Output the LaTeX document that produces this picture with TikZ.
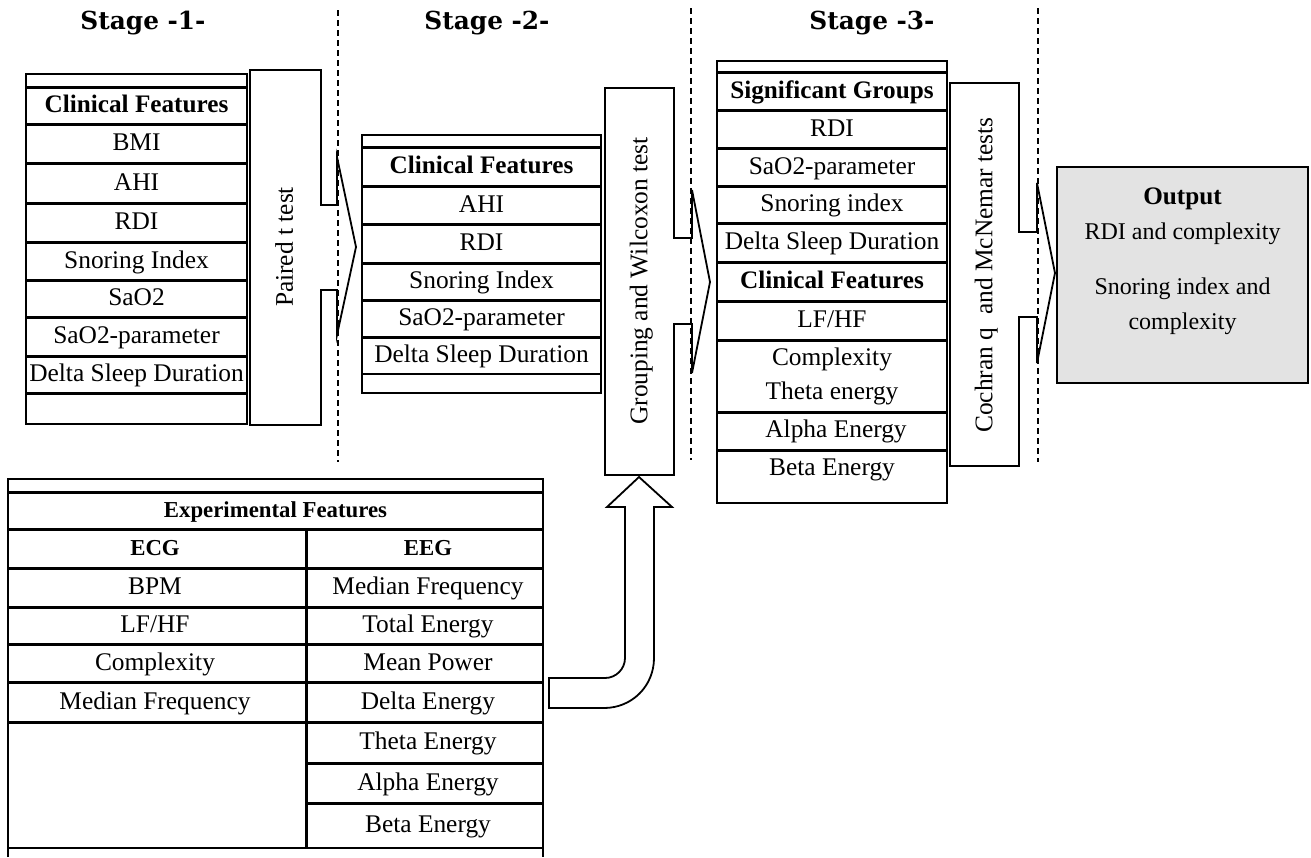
\documentclass[tikz,border=0pt]{standalone}
\usepackage{fontspec}
\setmainfont{Liberation Serif}
\newfontfamily\stagefont{DejaVu Serif}

\begin{document}
\begin{tikzpicture}[
      x=0.5pt, y=-0.5pt,
      frame/.style={draw, line width=0.8pt},
      sep/.style={line width=1.5pt},
      thinsep/.style={line width=0.6pt},
      cell/.style={inner sep=0pt, text height=9.3pt, text depth=1.9pt, font=\fontsize{12.7}{14}\selectfont},
      head/.style={cell, font=\fontsize{12.6}{14}\selectfont\bfseries},
      subhead/.style={cell, font=\fontsize{11.4}{13}\selectfont\bfseries},
      outtext/.style={cell, font=\fontsize{12}{14}\selectfont},
      stage/.style={inner sep=0pt, font=\stagefont\fontsize{12.4}{14}\selectfont\bfseries},
      testarrow/.style={draw, line width=0.9pt, line join=miter},
      testlabel/.style={cell, rotate=90},
      divider/.style={dash pattern=on 3pt off 2pt, line width=0.55pt},
      outbox/.style={draw, line width=0.9pt, fill=gray!22}
    ]
      \useasboundingbox (0,0) rectangle (1311,857);

      % stage titles and dividers
      \node[stage] (stage1) at (143,23) {Stage -1-};
      \node[stage] (stage2) at (487,23) {Stage -2-};
      \node[stage] (stage3) at (872,23) {Stage -3-};
      \draw[divider] (338,10) -- (338,462);
      \draw[divider] (691,8) -- (691,460);
      \draw[divider] (1038,8) -- (1038,462);

      % stage 1 table
      \draw[frame] (26,74) rectangle (247,424);
      \foreach \y in {87,124,163,203,242,280,317,356,393}
        \draw[sep] (26,\y) -- (247,\y);
      \node[head] (cf1) at (136.5,105.5) {Clinical Features};
      \node[cell] (bmi1) at (136.5,143.5) {BMI};
      \node[cell] (ahi1) at (136.5,183) {AHI};
      \node[cell] (rdi1) at (136.5,222.5) {RDI};
      \node[cell] (snore1) at (136.5,261) {Snoring Index};
      \node[cell] (sao1) at (136.5,298.5) {SaO2};
      \node[cell] (saop1) at (136.5,336.5) {SaO2-parameter};
      \node[cell] (delta1) at (136.5,374.5) {Delta Sleep Duration};

      % paired t test
      \draw[testarrow] (250,70) -- (321,70) -- (321,205) -- (337,205) -- (337,157) -- (356,247)
        -- (337,335) -- (337,290) -- (321,290) -- (321,425) -- (250,425) -- cycle;
      \node[testlabel] (ttest) at (285.5,247) {Paired t test};

      % stage 2 table
      \draw[frame] (362,135) rectangle (601,393);
      \foreach \y in {147,186,224,263,300,337}
        \draw[sep] (362,\y) -- (601,\y);
      \draw[thinsep] (362,374) -- (601,374);
      \node[head] (cf2) at (481.5,166.5) {Clinical Features};
      \node[cell] (ahi2) at (481.5,205) {AHI};
      \node[cell] (rdi2) at (481.5,243.5) {RDI};
      \node[cell] (snore2) at (481.5,281.5) {Snoring Index};
      \node[cell] (saop2) at (481.5,318.5) {SaO2-parameter};
      \node[cell] (delta2) at (481.5,355.5) {Delta Sleep Duration};

      % grouping and wilcoxon test
      \draw[testarrow] (605,88) -- (674,88) -- (674,238) -- (692,238) -- (692,190) -- (710,282)
        -- (692,373) -- (692,324) -- (674,324) -- (674,475) -- (605,475) -- cycle;
      \node[testlabel] (wilcox) at (640,281) {Grouping and Wilcoxon test};

      % stage 3 table
      \draw[frame] (717,61) rectangle (947,503);
      \foreach \y in {72,110,148,186,223,262,301,340,412,450}
        \draw[sep] (717,\y) -- (947,\y);
      \node[head] (sig3) at (832,91) {Significant Groups};
      \node[cell] (rdi3) at (832,129) {RDI};
      \node[cell] (saop3) at (832,167) {SaO2-parameter};
      \node[cell] (snore3) at (832,204.5) {Snoring index};
      \node[cell] (delta3) at (832,242.5) {Delta Sleep Duration};
      \node[head] (cf3) at (832,281.5) {Clinical Features};
      \node[cell] (lfhf3) at (832,320.5) {LF/HF};
      \node[cell] (cplx3) at (832,358) {Complexity};
      \node[cell] (theta3) at (832,392) {Theta energy};
      \node[cell] (alpha3) at (836,430) {Alpha Energy};
      \node[cell] (beta3) at (832,468) {Beta Energy};

      % cochran q and mcnemar tests
      \draw[testarrow] (950,83) -- (1019,83) -- (1019,232) -- (1037,232) -- (1037,183) -- (1055,273)
        -- (1037,363) -- (1037,317) -- (1019,317) -- (1019,466) -- (950,466) -- cycle;
      \node[testlabel] (cochran) at (985,275) {Cochran q~ and McNemar tests};

      % output
      \draw[outbox] (1057,167) rectangle (1308,383);
      \node[head] (outtitle) at (1182.5,197) {Output};
      \node[outtext] (out1) at (1182.5,232) {RDI and complexity};
      \node[outtext] (out2) at (1182.5,287) {Snoring index and};
      \node[outtext] (out3) at (1182.5,322) {complexity};

      % experimental features table
      \draw[frame] (8,857) -- (8,479) -- (543,479) -- (543,857);
      \foreach \y in {492,529,568,607,644,682,722}
        \draw[sep] (8,\y) -- (543,\y);
      \foreach \y in {763,803}
        \draw[sep] (306,\y) -- (543,\y);
      \draw[thinsep] (8,848) -- (543,848);
      \draw[sep] (306,529) -- (306,848);
      \node[subhead] (expf) at (275.5,510.5) {Experimental Features};
      \node[subhead] (ecg) at (155,548.5) {ECG};
      \node[subhead] (eeg) at (428,548.5) {EEG};
      \node[cell] (bpm) at (155,587.5) {BPM};
      \node[cell] (lfhf) at (155,625.5) {LF/HF};
      \node[cell] (cplx) at (155,663) {Complexity};
      \node[cell] (medecg) at (155,702) {Median Frequency};
      \node[cell] (medeeg) at (428,587.5) {Median Frequency};
      \node[cell] (total) at (428,625.5) {Total Energy};
      \node[cell] (power) at (428,663) {Mean Power};
      \node[cell] (delta) at (428,702) {Delta Energy};
      \node[cell] (theta) at (428,742.5) {Theta Energy};
      \node[cell] (alpha) at (428,783) {Alpha Energy};
      \node[cell] (beta) at (428,825.5) {Beta Energy};

      % bent arrow up to the wilcoxon box
      \draw[testarrow] (549,678) -- (605,678) .. controls (616,678) and (625,669) .. (625,658)
        -- (625,507) -- (607,507) -- (639,477) -- (672,507) -- (654,507) -- (654,658)
        .. controls (654,686) and (632,708) .. (604,708) -- (549,708) -- cycle;
    \end{tikzpicture}
\end{document}
